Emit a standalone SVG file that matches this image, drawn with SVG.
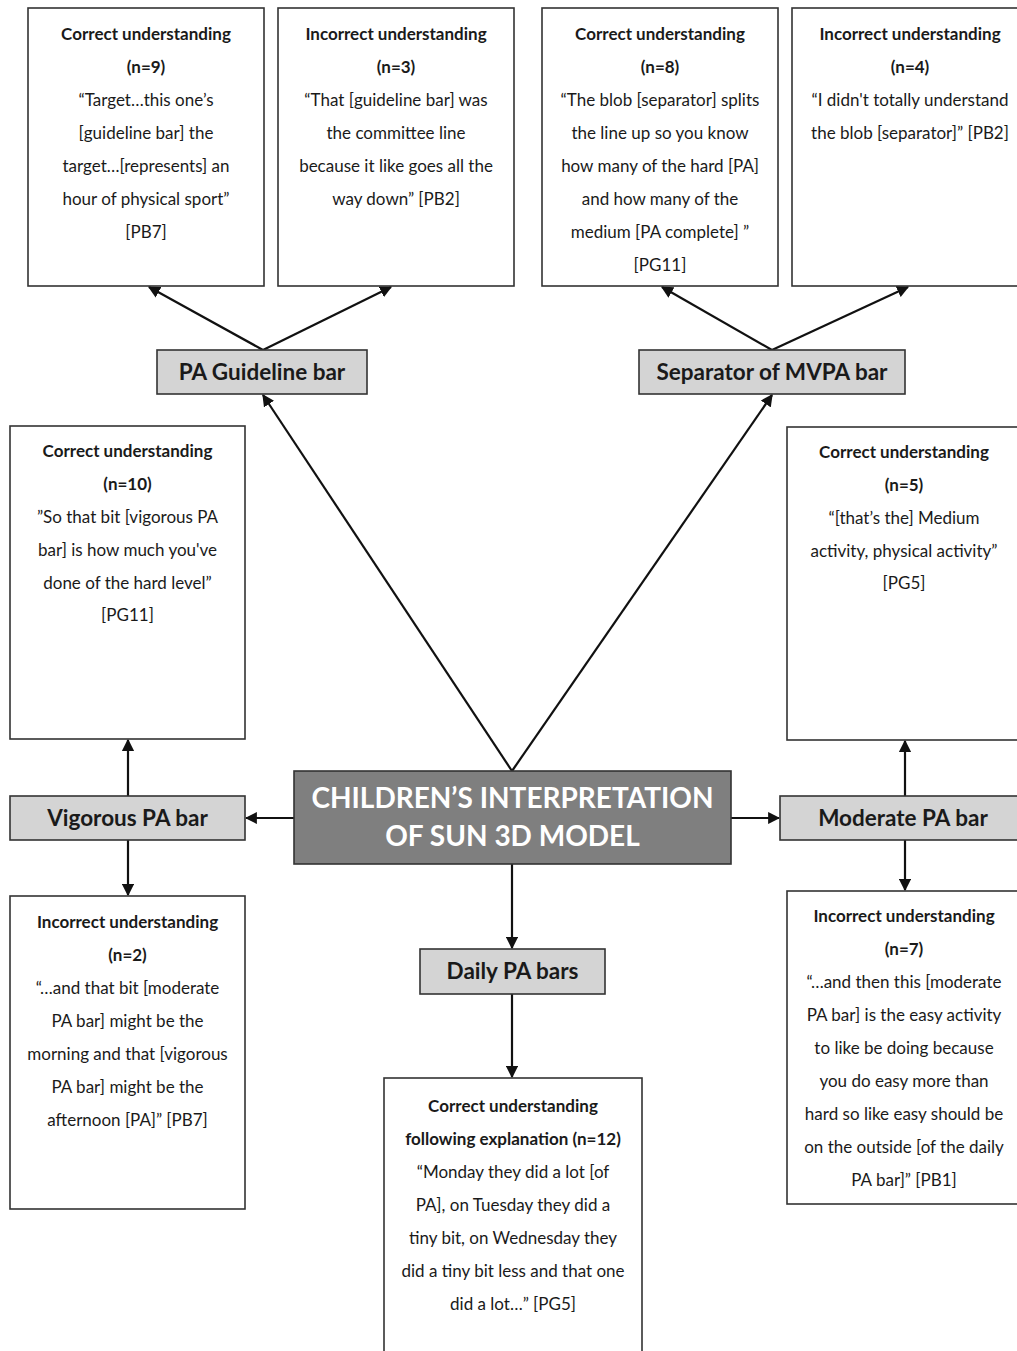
<svg xmlns="http://www.w3.org/2000/svg" width="1017" height="1351" viewBox="0 0 1017 1351">
<defs>
<style>
.box{fill:#ffffff;stroke:#333333;stroke-width:1.6}
.bar{fill:#d4d4d4;stroke:#333333;stroke-width:1.6}
.main{fill:#7f7f7f;stroke:#333333;stroke-width:1.6}
text{font-family:Lato,"Open Sans","Liberation Sans",sans-serif;fill:#1a1a1a;text-anchor:middle}
.t{font-size:17px}
.b{font-size:17px;font-weight:bold}
.lbl{font-size:22.5px;font-weight:bold}
.ttl{font-size:28px;font-weight:bold;fill:#ffffff}
.con{stroke:#111111;stroke-width:2.2;fill:none;marker-end:url(#ah)}
</style>
<marker id="ah" viewBox="0 0 10 10" refX="9" refY="5" markerWidth="5.5" markerHeight="5.5" orient="auto" markerUnits="strokeWidth">
<path d="M0,0 L10,5 L0,10 z" fill="#111111"/>
</marker>
</defs>
<rect width="1017" height="1351" fill="#ffffff"/>

<g id="connectors">
<line class="con" x1="263" y1="350" x2="149" y2="287"/>
<line class="con" x1="263" y1="350" x2="391" y2="287"/>
<line class="con" x1="772" y1="350" x2="662" y2="287"/>
<line class="con" x1="772" y1="350" x2="908" y2="287"/>
<line class="con" x1="512" y1="771" x2="263" y2="395"/>
<line class="con" x1="512" y1="771" x2="772" y2="395"/>
<line class="con" x1="294" y1="818" x2="246" y2="818"/>
<line class="con" x1="128" y1="796" x2="128" y2="740"/>
<line class="con" x1="128" y1="840" x2="128" y2="895"/>
<line class="con" x1="731" y1="818" x2="779" y2="818"/>
<line class="con" x1="905" y1="796" x2="905" y2="741"/>
<line class="con" x1="905" y1="840" x2="905" y2="890"/>
<line class="con" x1="512" y1="864" x2="512" y2="948"/>
<line class="con" x1="512" y1="994" x2="512" y2="1077"/>
</g>

<g id="guide-correct">
<rect class="box" x="28" y="8" width="236" height="278"/>
<text class="b" x="146" y="40">Correct understanding</text>
<text class="b" x="146" y="73">(n=9)</text>
<text class="t" x="146" y="106">“Target…this one’s</text>
<text class="t" x="146" y="139">[guideline bar] the</text>
<text class="t" x="146" y="172">target…[represents] an</text>
<text class="t" x="146" y="205">hour of physical sport”</text>
<text class="t" x="146" y="238">[PB7]</text>
</g>

<g id="guide-incorrect">
<rect class="box" x="278" y="8" width="236" height="278"/>
<text class="b" x="396" y="40">Incorrect understanding</text>
<text class="b" x="396" y="73">(n=3)</text>
<text class="t" x="396" y="106">“That [guideline bar] was</text>
<text class="t" x="396" y="139">the committee line</text>
<text class="t" x="396" y="172">because it like goes all the</text>
<text class="t" x="396" y="205">way down” [PB2]</text>
</g>

<g id="sep-correct">
<rect class="box" x="542" y="8" width="236" height="278"/>
<text class="b" x="660" y="40">Correct understanding</text>
<text class="b" x="660" y="73">(n=8)</text>
<text class="t" x="660" y="106">“The blob [separator] splits</text>
<text class="t" x="660" y="139">the line up so you know</text>
<text class="t" x="660" y="172">how many of the hard [PA]</text>
<text class="t" x="660" y="205">and how many of the</text>
<text class="t" x="660" y="238">medium [PA complete] ”</text>
<text class="t" x="660" y="271">[PG11]</text>
</g>

<g id="sep-incorrect">
<rect class="box" x="792" y="8" width="240" height="278"/>
<text class="b" x="910" y="40">Incorrect understanding</text>
<text class="b" x="910" y="73">(n=4)</text>
<text class="t" x="910" y="106">“I didn't totally understand</text>
<text class="t" x="910" y="139">the blob [separator]” [PB2]</text>
</g>

<g id="pa-guideline-bar">
<rect class="bar" x="157" y="350" width="210" height="44"/>
<text class="lbl" x="262" y="380">PA Guideline bar</text>
</g>

<g id="separator-bar">
<rect class="bar" x="639" y="350" width="266" height="44"/>
<text class="lbl" x="772" y="380">Separator of MVPA bar</text>
</g>

<g id="vig-correct">
<rect class="box" x="10" y="426" width="235" height="313"/>
<text class="b" x="127.5" y="457">Correct understanding</text>
<text class="b" x="127.5" y="490">(n=10)</text>
<text class="t" x="127.5" y="523">”So that bit [vigorous PA</text>
<text class="t" x="127.5" y="556">bar] is how much you've</text>
<text class="t" x="127.5" y="589">done of the hard level”</text>
<text class="t" x="127.5" y="621">[PG11]</text>
</g>

<g id="mod-correct">
<rect class="box" x="787" y="427" width="240" height="313"/>
<text class="b" x="904" y="458">Correct understanding</text>
<text class="b" x="904" y="491">(n=5)</text>
<text class="t" x="904" y="524">“[that’s the] Medium</text>
<text class="t" x="904" y="557">activity, physical activity”</text>
<text class="t" x="904" y="589">[PG5]</text>
</g>

<g id="center">
<rect class="main" x="294" y="771" width="437" height="93"/>
<text class="ttl" x="512.5" y="808">CHILDREN’S INTERPRETATION</text>
<text class="ttl" x="512.5" y="846">OF SUN 3D MODEL</text>
</g>

<g id="vigorous-bar">
<rect class="bar" x="10" y="796" width="235" height="44"/>
<text class="lbl" x="127.5" y="826">Vigorous PA bar</text>
</g>

<g id="moderate-bar">
<rect class="bar" x="780" y="796" width="250" height="44"/>
<text class="lbl" x="903" y="826">Moderate PA bar</text>
</g>

<g id="vig-incorrect">
<rect class="box" x="10" y="896" width="235" height="313"/>
<text class="b" x="127.5" y="928">Incorrect understanding</text>
<text class="b" x="127.5" y="961">(n=2)</text>
<text class="t" x="127.5" y="994">“…and that bit [moderate</text>
<text class="t" x="127.5" y="1027">PA bar] might be the</text>
<text class="t" x="127.5" y="1060">morning and that [vigorous</text>
<text class="t" x="127.5" y="1093">PA bar] might be the</text>
<text class="t" x="127.5" y="1126">afternoon [PA]” [PB7]</text>
</g>

<g id="daily-bar">
<rect class="bar" x="420" y="949" width="185" height="45"/>
<text class="lbl" x="512.5" y="979">Daily PA bars</text>
</g>

<g id="mod-incorrect">
<rect class="box" x="787" y="891" width="240" height="313"/>
<text class="b" x="904" y="922">Incorrect understanding</text>
<text class="b" x="904" y="955">(n=7)</text>
<text class="t" x="904" y="988">“…and then this [moderate</text>
<text class="t" x="904" y="1021">PA bar] is the easy activity</text>
<text class="t" x="904" y="1054">to like be doing because</text>
<text class="t" x="904" y="1087">you do easy more than</text>
<text class="t" x="904" y="1120">hard so like easy should be</text>
<text class="t" x="904" y="1153">on the outside [of the daily</text>
<text class="t" x="904" y="1186">PA bar]” [PB1]</text>
</g>

<g id="daily-correct">
<rect class="box" x="384" y="1078" width="258" height="290"/>
<text class="b" x="513" y="1112">Correct understanding</text>
<text class="b" x="513" y="1145">following explanation (n=12)</text>
<text class="t" x="513" y="1178">“Monday they did a lot [of</text>
<text class="t" x="513" y="1211">PA], on Tuesday they did a</text>
<text class="t" x="513" y="1244">tiny bit, on Wednesday they</text>
<text class="t" x="513" y="1277">did a tiny bit less and that one</text>
<text class="t" x="513" y="1310">did a lot…” [PG5]</text>
</g>
</svg>
